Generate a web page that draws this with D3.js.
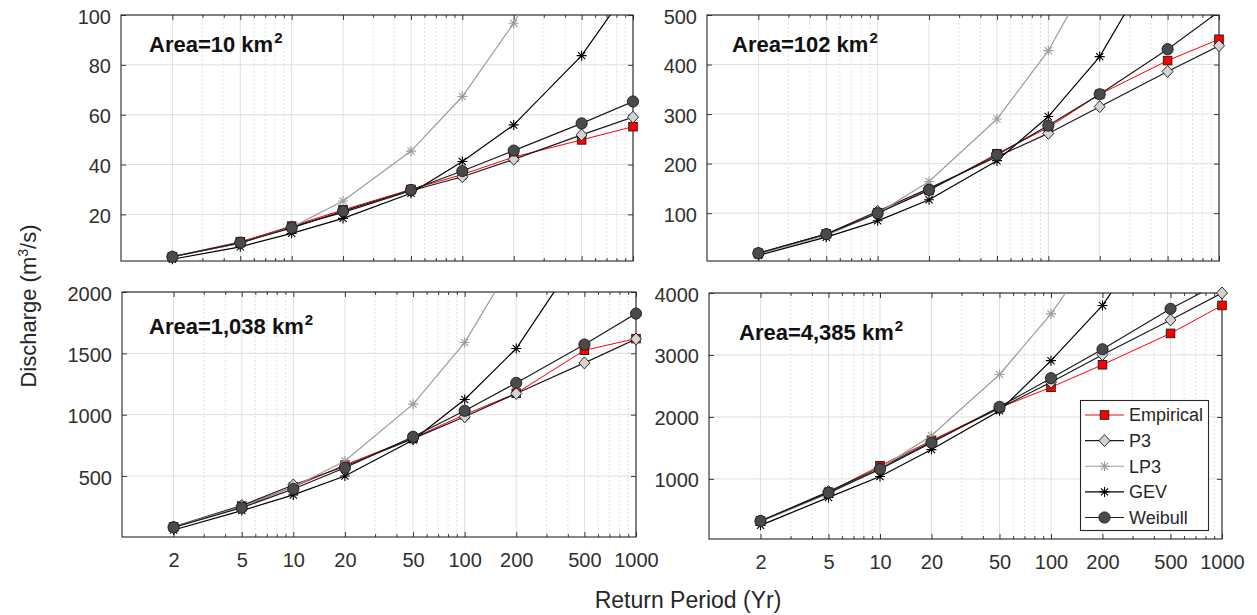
<!DOCTYPE html>
<html>
<head>
<meta charset="utf-8">
<script src="https://cdn.jsdelivr.net/npm/d3@7"></script>
<style>
  body { margin: 0; background: #fff; }
  svg { display: block; font-family: "Liberation Sans", Arial, Helvetica, sans-serif; }
</style>
</head>
<body>
<svg id="chart" width="1257" height="615"></svg>
<script>
// Return periods (years) shared by every panel
const returnPeriods = [2, 5, 10, 20, 50, 100, 200, 500, 1000];
const xTickLabels = [2, 5, 10, 20, 50, 100, 200, 500, 1000];
const xMinorTicks = [3, 4, 6, 7, 8, 9, 30, 40, 60, 70, 80, 90, 300, 400, 600, 700, 800, 900];

// Catchment areas, one per panel
const areaNames = ["Area=10 km", "Area=102 km", "Area=1,038 km", "Area=4,385 km"];

// Y ticks and y ranges per panel
const yTickValues = [
  [20, 40, 60, 80, 100],
  [100, 200, 300, 400, 500],
  [500, 1000, 1500, 2000],
  [1000, 2000, 3000, 4000]
];
const yRanges = [[1.3, 100], [3.5, 500], [3, 2000], [30, 4000]];

// Discharge (m3/s) per panel, one row per catchment
const empirical = [
  [3.0, 9.0, 15.3, 21.8, 30.0, 36.0, 43.0, 49.9, 55.2],
  [19, 58, 101, 146, 220, 273, 340, 408, 451],
  [85, 255, 410, 590, 810, 1000, 1175, 1525, 1620],
  [320, 785, 1212, 1620, 2150, 2478, 2842, 3348, 3799]
];
const p3 = [
  [3.0, 8.5, 15.0, 20.8, 29.5, 35.1, 42.1, 51.9, 59.0],
  [19, 58, 104, 150, 214, 261, 315, 386, 438],
  [85, 260, 427, 580, 805, 983, 1173, 1422, 1617],
  [320, 795, 1180, 1600, 2140, 2560, 3005, 3565, 4000]
];
const lp3 = [
  [3.0, 8.6, 14.8, 25.4, 45.4, 67.3, 96.7, 146, 192],
  [18, 55, 100, 164, 290, 428, 614, 920, 1200],
  [85, 250, 410, 622, 1086, 1588, 2290, 3400, 4400],
  [310, 760, 1170, 1701, 2685, 3663, 4860, 6800, 8500]
];
const gev = [
  [2.0, 7.0, 12.4, 18.4, 28.5, 41.2, 55.9, 83.7, 113],
  [15, 51.6, 84.6, 127, 206, 295, 416, 650, 870],
  [60, 218, 346, 500, 793, 1124, 1539, 2370, 3000],
  [250, 701, 1038, 1473, 2098, 2908, 3799, 5400, 7000]
];
const weibull = [
  [3.0, 8.7, 14.6, 21.3, 29.8, 37.4, 45.6, 56.5, 65.3],
  [19.3, 57.6, 100, 147, 217.6, 276.8, 340, 431, 507],
  [82, 242, 394, 568, 820, 1032, 1259, 1572, 1824],
  [321, 777, 1158, 1582, 2163, 2625, 3092, 3745, 4180]
];

const series = [
  { name: "Empirical", data: empirical, line: "#ff0000", lw: 1,   marker: "square",   fill: "#ff0000", stroke: "#1a1a1a" },
  { name: "P3",        data: p3,        line: "#1a1a1a", lw: 1.2, marker: "diamond",  fill: "#d3d3d3", stroke: "#1a1a1a" },
  { name: "LP3",       data: lp3,       line: "#9c9c9c", lw: 1.2, marker: "asterisk", fill: "none",    stroke: "#9c9c9c" },
  { name: "GEV",       data: gev,       line: "#000000", lw: 1.2, marker: "asterisk", fill: "none",    stroke: "#000000" },
  { name: "Weibull",   data: weibull,   line: "#1a1a1a", lw: 1.2, marker: "circle",   fill: "#4a4a4a", stroke: "#1a1a1a" }
];

// Subplot frames
const frames = [
  { left: 121, right: 633,  top: 15,  bottom: 261, labelX: 149, labelY: 52,  showX: false },
  { left: 707, right: 1219, top: 15,  bottom: 261, labelX: 732, labelY: 52,  showX: false },
  { left: 122, right: 636,  top: 292, bottom: 537, labelX: 149, labelY: 334, showX: true },
  { left: 709, right: 1222, top: 293, bottom: 539, labelX: 739, labelY: 340, showX: true }
];

const ink = "#262626";
const svg = d3.select("#chart");

function drawMarker(g, type, cx, cy, s) {
  if (type === "square") {
    g.append("rect").attr("x", cx - 4.3).attr("y", cy - 4.3).attr("width", 8.6).attr("height", 8.6)
      .attr("fill", s.fill).attr("stroke", s.stroke).attr("stroke-width", 0.9);
  } else if (type === "diamond") {
    g.append("path").attr("d", `M${cx},${cy - 6}L${cx + 5.5},${cy}L${cx},${cy + 6}L${cx - 5.5},${cy}Z`)
      .attr("fill", s.fill).attr("stroke", s.stroke).attr("stroke-width", 0.9);
  } else if (type === "circle") {
    g.append("circle").attr("cx", cx).attr("cy", cy).attr("r", 5.6)
      .attr("fill", s.fill).attr("stroke", s.stroke).attr("stroke-width", 0.9);
  } else {
    const r = 5, d = 3.6;
    g.append("path")
      .attr("d", `M${cx},${cy - r}V${cy + r}M${cx - r},${cy}H${cx + r}M${cx - d},${cy - d}L${cx + d},${cy + d}M${cx - d},${cy + d}L${cx + d},${cy - d}`)
      .attr("stroke", s.stroke).attr("stroke-width", 1.1).attr("fill", "none");
  }
}

frames.forEach((f, i) => {
  const x = d3.scaleLog().domain([1, 1000]).range([f.left, f.right]);
  const y = d3.scaleLinear().domain(yRanges[i]).range([f.bottom, f.top]);
  const g = svg.append("g");

  const clipId = "clip" + i;
  svg.append("clipPath").attr("id", clipId)
    .append("rect").attr("x", f.left).attr("y", f.top)
    .attr("width", f.right - f.left).attr("height", f.bottom - f.top);

  // grid
  const grid = g.append("g");
  grid.selectAll(".minor").data(xMinorTicks).join("line")
    .attr("x1", d => x(d)).attr("x2", d => x(d)).attr("y1", f.top).attr("y2", f.bottom)
    .attr("stroke", "#cfcfcf").attr("stroke-width", 0.8).attr("stroke-dasharray", "1.5,2.5");
  grid.selectAll(".majorx").data(xTickLabels).join("line")
    .attr("x1", d => x(d)).attr("x2", d => x(d)).attr("y1", f.top).attr("y2", f.bottom)
    .attr("stroke", "#dedede").attr("stroke-width", 1);
  grid.selectAll(".majory").data(yTickValues[i]).join("line")
    .attr("x1", f.left).attr("x2", f.right).attr("y1", d => y(d)).attr("y2", d => y(d))
    .attr("stroke", "#dedede").attr("stroke-width", 1);

  // axes (ticks point inward)
  const axB = g.append("g").attr("transform", `translate(0,${f.bottom})`)
    .call(d3.axisBottom(x).tickValues(xTickLabels).tickSizeInner(-5).tickSizeOuter(0).tickPadding(16)
      .tickFormat(f.showX ? d3.format("d") : () => ""));
  g.append("g").attr("transform", `translate(0,${f.bottom})`)
    .call(d3.axisBottom(x).tickValues(xMinorTicks).tickSizeInner(-3).tickSizeOuter(0).tickFormat(() => ""));
  g.append("g").attr("transform", `translate(0,${f.top})`)
    .call(d3.axisTop(x).tickValues(xTickLabels).tickSizeInner(-5).tickSizeOuter(0).tickFormat(() => ""));
  g.append("g").attr("transform", `translate(0,${f.top})`)
    .call(d3.axisTop(x).tickValues(xMinorTicks).tickSizeInner(-3).tickSizeOuter(0).tickFormat(() => ""));
  const axL = g.append("g").attr("transform", `translate(${f.left},0)`)
    .call(d3.axisLeft(y).tickValues(yTickValues[i]).tickSizeInner(-5).tickSizeOuter(0).tickPadding(10)
      .tickFormat(d3.format("d")));
  g.append("g").attr("transform", `translate(${f.right},0)`)
    .call(d3.axisRight(y).tickValues(yTickValues[i]).tickSizeInner(-5).tickSizeOuter(0).tickFormat(() => ""));

  g.selectAll(".domain").remove();
  g.selectAll(".tick line").attr("stroke", ink).attr("stroke-width", 0.9);
  g.selectAll(".tick text").attr("fill", "#303030").attr("font-size", 20)
    .attr("font-family", '"Liberation Sans", Arial, Helvetica, sans-serif');
  axL.selectAll(".tick text").attr("dy", "0.4em");
  axB.selectAll(".tick text").attr("dy", "0.71em");

  // box
  g.append("rect").attr("x", f.left).attr("y", f.top)
    .attr("width", f.right - f.left).attr("height", f.bottom - f.top)
    .attr("fill", "none").attr("stroke", ink).attr("stroke-width", 1.1);

  // data
  const [ymin, ymax] = yRanges[i];
  series.forEach(s => {
    const vals = s.data[i];
    const pts = returnPeriods.map((t, k) => [t, vals[k]]);
    g.append("path").datum(pts)
      .attr("clip-path", `url(#${clipId})`)
      .attr("d", d3.line().x(d => x(d[0])).y(d => y(d[1])))
      .attr("fill", "none").attr("stroke", s.line).attr("stroke-width", s.lw);
    const mg = g.append("g");
    pts.filter(d => d[1] >= ymin && d[1] <= ymax * 1.0005)
      .forEach(d => drawMarker(mg, s.marker, x(d[0]), y(d[1]), s));
  });

  // area label
  const t = svg.append("text").attr("x", f.labelX).attr("y", f.labelY)
    .attr("font-weight", "bold").attr("font-size", 22).attr("fill", "#111");
  t.append("tspan").text(areaNames[i]);
  t.append("tspan").attr("font-size", 15).attr("dy", -9).attr("dx", 1).text("2");
});

// legend in the lower-right panel
const lg = svg.append("g");
lg.append("rect").attr("x", 1080.5).attr("y", 400.5).attr("width", 128).attr("height", 130)
  .attr("fill", "#fff").attr("stroke", ink).attr("stroke-width", 1.1);
const legendY = d3.scalePoint().domain(series.map(s => s.name)).range([415, 517.5]);
series.forEach(s => {
  const yy = legendY(s.name);
  lg.append("line").attr("x1", 1085).attr("x2", 1124).attr("y1", yy).attr("y2", yy)
    .attr("stroke", s.line).attr("stroke-width", s.lw);
  drawMarker(lg, s.marker, 1104.5, yy, s);
  lg.append("text").attr("x", 1129).attr("y", yy).attr("dy", "0.36em")
    .attr("font-size", 18).attr("fill", ink).text(s.name);
});

// axis titles
svg.append("text").attr("x", 688).attr("y", 600).attr("dy", "0.36em").attr("text-anchor", "middle")
  .attr("font-size", 23).attr("fill", ink).text("Return Period (Yr)");
const yt = svg.append("text").attr("transform", "translate(28,306) rotate(-90)")
  .attr("text-anchor", "middle").attr("dy", "0.36em").attr("font-size", 22).attr("fill", ink);
yt.append("tspan").text("Discharge (m");
yt.append("tspan").attr("font-size", 14).attr("dy", -8).text("3");
yt.append("tspan").attr("dy", 8).text("/s)");
</script>
</body>
</html>
